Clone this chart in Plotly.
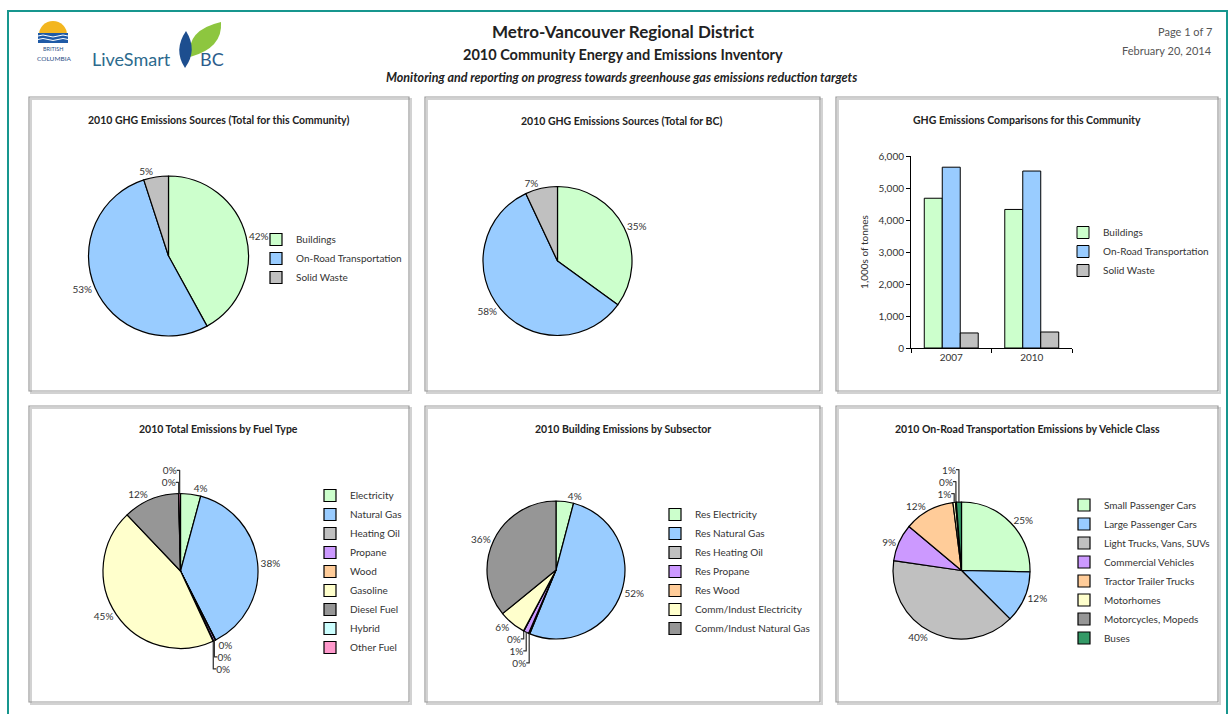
import plotly.graph_objects as go

W, H = 1231, 714
FONT = "Lato"
TXT = "#333333"

# ---- data -------------------------------------------------------------
sources = ["Buildings", "On-Road Transportation", "Solid Waste"]
community_share = [42, 53, 5]
bc_share = [35, 58, 7]

years = ["2007", "2010"]
buildings_kt = [4680, 4330]
transport_kt = [5650, 5530]
waste_kt = [470, 500]

fuel_types = ["Electricity", "Natural Gas", "Heating Oil", "Propane", "Wood",
              "Gasoline", "Diesel Fuel", "Hybrid", "Other Fuel"]
fuel_share = [4.2, 38.3, 0.1, 0.4, 0.1, 44.8, 11.7, 0.05, 0.35]

subsectors = ["Res Electricity", "Res Natural Gas", "Res Heating Oil", "Res Propane",
              "Res Wood", "Comm/Indust Electricity", "Comm/Indust Natural Gas"]
subsector_share = [4.1, 52.1, 0.3, 1.2, 0.1, 6.3, 35.9]

vehicle_classes = ["Small Passenger Cars", "Large Passenger Cars", "Light Trucks, Vans, SUVs",
                   "Commercial Vehicles", "Tractor Trailer Trucks", "Motorhomes",
                   "Motorcycles, Mopeds", "Buses"]
vehicle_share = [25.3, 12.2, 39.8, 8.8, 11.9, 0.6, 0.2, 1.2]

# ---- palette ----------------------------------------------------------
GREEN, BLUE, GRAY = "#CCFFCC", "#99CCFF", "#C0C0C0"
PURPLE, ORANGE, CREAM = "#CC99FF", "#FFCC99", "#FFFFCC"
DARK, CYAN, PINK, BUS = "#969696", "#CCFFFF", "#FF99CC", "#339966"

source_colors = [GREEN, BLUE, GRAY]
fuel_colors = [GREEN, BLUE, GRAY, PURPLE, ORANGE, CREAM, DARK, CYAN, PINK]
subsector_colors = [GREEN, BLUE, GRAY, PURPLE, ORANGE, CREAM, DARK]
vehicle_colors = [GREEN, BLUE, GRAY, PURPLE, ORANGE, CREAM, DARK, BUS]


def fx(x):
    return x / W


def fy(y):
    return 1 - y / H


def pie(labels, values, colors, cx, cy, r, legend):
    return go.Pie(
        labels=labels, values=values, sort=False, direction="clockwise", rotation=0,
        marker=dict(colors=colors, line=dict(color="black", width=1.2)),
        domain=dict(x=[fx(cx - r), fx(cx + r)], y=[fy(cy + r), fy(cy - r)]),
        textposition="outside", texttemplate="%{percent:.0%}",
        outsidetextfont=dict(family=FONT, size=10, color=TXT),
        hoverinfo="skip", legend=legend, showlegend=True,
    )


def legend_at(x_text, y_first, n):
    # plotly rows are 19 px apart; spread the extra evenly around the block
    top = y_first - 14 - (n - 1) / 2
    return dict(
        x=fx(x_text - 34), y=fy(top), xanchor="left", yanchor="top",
        bgcolor="rgba(0,0,0,0)", borderwidth=0, itemwidth=30, tracegroupgap=0,
        traceorder="normal", font=dict(family=FONT, size=10, color=TXT),
    )


fig = go.Figure()

fig.add_trace(pie(sources, community_share, source_colors, 168.5, 256, 80, "legend"))
fig.add_trace(pie(sources, bc_share, source_colors, 557.5, 261, 74.5, "legend2"))
fig.add_trace(pie(fuel_types, fuel_share, fuel_colors, 180.5, 571, 77.5, "legend4"))
fig.add_trace(pie(subsectors, subsector_share, subsector_colors, 556, 570, 69, "legend5"))
fig.add_trace(pie(vehicle_classes, vehicle_share, vehicle_colors, 961.5, 570.5, 68.5, "legend6"))

for name, vals, col in [("Buildings", buildings_kt, GREEN),
                        ("On-Road Transportation", transport_kt, BLUE),
                        ("Solid Waste", waste_kt, GRAY)]:
    fig.add_trace(go.Bar(
        x=years, y=vals, name=name, legend="legend3",
        marker=dict(color=col, line=dict(color="black", width=1)),
        hoverinfo="skip",
    ))

# ---- frames -----------------------------------------------------------
shapes = []


def rect(x0, y0, x1, y1, color, width, fill=None):
    shapes.append(dict(type="rect", xref="paper", yref="paper", layer="below",
                       x0=fx(x0), x1=fx(x1), y0=fy(y1), y1=fy(y0),
                       line=dict(color=color, width=width),
                       fillcolor=fill if fill else "rgba(0,0,0,0)"))


def svg(*segs, close=True, **kw):
    parts = []
    for seg in segs:
        cmd, pts = seg[0], seg[1:]
        parts.append(cmd + " ".join(f"{fx(x):.5f},{fy(y):.5f}" for x, y in pts))
    d = " ".join(parts) + (" Z" if close else "")
    shapes.append(dict(type="path", xref="paper", yref="paper", layer="below", path=d, **kw))


rect(8, 11, 1227, 720, "#17968e", 2)

panels = [(29, 97, 409, 391), (425, 97, 820, 391), (836, 97, 1218, 391),
          (29, 406, 409, 702), (425, 406, 820, 702), (836, 406, 1218, 702)]
for x0, y0, x1, y1 in panels:
    rect(x0 + 2, y0 + 2, x1 + 2, y1 + 2, "#d2d2d2", 2)
    rect(x0, y0, x1, y1, "#9a9a9a", 1.2)

# ---- logos ------------------------------------------------------------
shapes.append(dict(type="circle", xref="paper", yref="paper", layer="below",
                   x0=fx(39), x1=fx(67), y0=fy(49), y1=fy(21),
                   fillcolor="#f3b61f", line=dict(width=0)))
rect(36, 35, 71, 52, "white", 0, fill="white")
rect(38, 33, 68, 43, "#1f5aa6", 0, fill="#1f5aa6")
for yy in (36, 39.5):
    svg(("M", (38, yy)), ("Q", (43, yy - 2), (48, yy)), ("Q", (53, yy + 2), (58, yy)),
        ("Q", (63, yy - 2), (68, yy)), close=False,
        line=dict(color="white", width=1))
svg(("M", (221, 22)), ("Q", (223, 48), (190, 57)), ("Q", (186, 30), (221, 22)),
    fillcolor="#8dc63f", line=dict(width=0))
svg(("M", (186, 31)), ("Q", (198, 50), (185, 68)), ("Q", (173, 50), (186, 31)),
    fillcolor="#1d4e8f", line=dict(width=0))

# ---- text -------------------------------------------------------------
ann = []


def text(x, y, s, size, color=TXT, weight="normal", style="normal", anchor="center", fam=FONT):
    ann.append(dict(x=fx(x), y=fy(y), xref="paper", yref="paper", text=s, showarrow=False,
                    xanchor=anchor, yanchor="middle",
                    font=dict(family=fam, size=size, color=color, weight=weight, style=style)))


text(623, 32, "Metro-Vancouver Regional District", 17, "#222", "bold")
text(623, 55, "2010 Community Energy and Emissions Inventory", 14.5, "#222", "bold")
text(621, 77, "Monitoring and reporting on progress towards greenhouse gas emissions reduction targets",
     12.5, "#222", "bold", "italic")
text(1214, 32, "Page 1 of 7", 11, "#555", anchor="right")
text(1214, 51, "February 20, 2014", 11, "#555", anchor="right")

text(53, 49, "BRITISH", 5.5, "#2a4f86")
text(54, 58, "COLUMBIA", 6.5, "#2a4f86")
text(131, 59, "LiveSmart", 18, "#2c6a8d")
text(212, 59, "BC", 18, "#2c5d8c")

text(218, 120, "2010 GHG Emissions Sources (Total for this Community)", 10.5, "#222", "bold")
text(621, 121, "2010 GHG Emissions Sources (Total for BC)", 10.5, "#222", "bold")
text(1027, 120, "GHG Emissions Comparisons for this Community", 10.5, "#222", "bold")
text(218, 429, "2010 Total Emissions by Fuel Type", 10.5, "#222", "bold")
text(623, 429, "2010 Building Emissions by Subsector", 10.5, "#222", "bold")
text(1027, 429, "2010 On-Road Transportation Emissions by Vehicle Class", 10.5, "#222", "bold")

fig.update_layout(
    width=W, height=H, autosize=False,
    margin=dict(l=0, r=0, t=0, b=0, pad=0),
    paper_bgcolor="white", plot_bgcolor="rgba(0,0,0,0)",
    font=dict(family=FONT, size=10, color=TXT),
    shapes=shapes, annotations=ann,
    barmode="group", bargap=0.33, bargroupgap=0,
    xaxis=dict(domain=[fx(911), fx(1072)], type="category", showline=True, linecolor="black",
               linewidth=1, ticks="outside", tickson="boundaries", ticklen=4, tickcolor="black",
               showgrid=False, zeroline=False, automargin=False,
               tickfont=dict(family=FONT, size=10, color=TXT)),
    yaxis=dict(domain=[fy(348), fy(156)], range=[0, 6000], dtick=1000, tickformat=",",
               showline=True, linecolor="black", linewidth=1, ticks="outside", ticklen=4,
               tickcolor="black", showgrid=False, zeroline=False, automargin=False,
               tickfont=dict(family=FONT, size=10, color=TXT),
               title=dict(text="1,000s of tonnes", standoff=8,
                          font=dict(family=FONT, size=10, color=TXT))),
    legend=legend_at(290, 240, 3),
    legend2=legend_at(700, 243, 3),
    legend3=legend_at(1097, 233, 3),
    legend4=legend_at(344, 499, 9),
    legend5=legend_at(689, 517, 7),
    legend6=legend_at(1098, 508, 8),
)

fig.write_html("out.html")
